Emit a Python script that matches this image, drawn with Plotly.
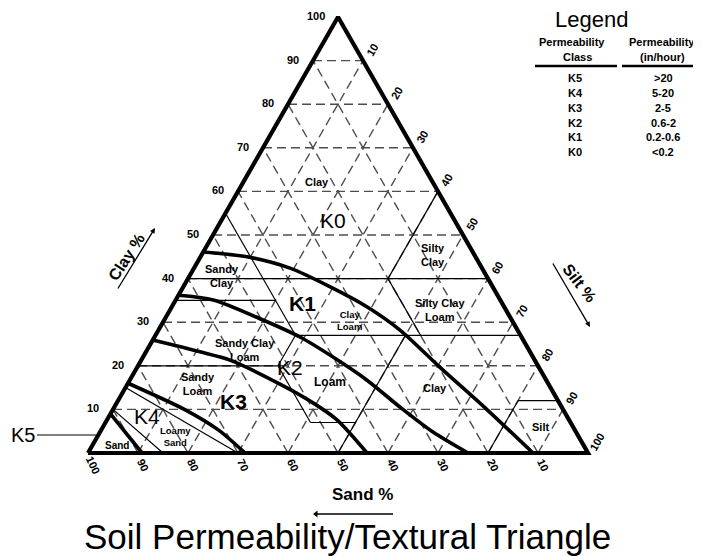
import plotly.graph_objects as go

W, H = 701, 556
OFF = 8  # page body margin of the html page
FONT = "Liberation Sans"

# ---------------- data ----------------
grid_levels = [10, 20, 30, 40, 50, 60, 70, 80, 90]
clay_ticks = [10, 20, 30, 40, 50, 60, 70, 80, 90, 100]
silt_ticks = [10, 20, 30, 40, 50, 60, 70, 80, 90, 100]
sand_ticks = [100, 90, 80, 70, 60, 50, 40, 30, 20, 10]

# USDA texture class boundaries, (sand, silt, clay) end points
texture_segments = [
    ((60, 0, 40), (0, 60, 40)),
    ((20, 40, 40), (0, 40, 60)),
    ((45, 28, 27), (45, 0, 55)),
    ((65, 0, 35), (45, 20, 35)),
    ((45, 28, 27), (0, 73, 27)),
    ((20, 53, 27), (20, 40, 40)),
    ((80, 0, 20), (52, 28, 20)),
    ((52, 28, 20), (45, 28, 27)),
    ((52, 41, 7), (52, 28, 20)),
    ((52, 41, 7), (43, 50, 7)),
    ((50, 50, 0), (23, 50, 27)),
    ((8, 80, 12), (0, 88, 12)),
    ((20, 80, 0), (8, 80, 12)),
    ((70, 30, 0), (85, 0, 15)),
    ((85, 15, 0), (90, 0, 10)),
]

# permeability class boundaries (sand, silt, clay)
k0_k1 = [(53.9, 0, 46.1), (45.7, 9.3, 45.0), (38.4, 19.2, 42.4), (32.5, 29.4, 38.1),
         (27.4, 39.1, 33.5), (23.5, 48.3, 28.2), (19.8, 60.5, 19.7), (15.2, 74.9, 9.9),
         (11.0, 89.0, 0)]
k1_k2 = [(63.8, 0, 36.2), (57.4, 7.5, 35.1), (49.75, 19.75, 30.5), (44.3, 29.1, 26.6),
         (40.0, 38.0, 22.0), (35.85, 47.45, 16.7), (32.35, 57.1, 10.55), (28.6, 66.6, 4.8),
         (24.0, 76.0, 0)]
k2_k3 = [(74.1, 0, 25.9), (66.0, 10.8, 23.2), (60.95, 17.75, 21.3), (53.7, 30.5, 15.8),
         (49.25, 39.25, 11.5), (46.4, 46.0, 7.6), (44.2, 55.8, 0)]
k3_k4 = [(84.0, 0, 16.0), (75.6, 14.5, 9.9), (71.3, 23.4, 5.3), (68.6, 31.4, 0)]
k4_k5 = [(91.0, 0, 9.0), (89.2, 10.8, 0)]

# texture class labels
texture_names = ["Clay", "Silty<br>Clay", "Sandy<br>Clay", "Silty Clay<br>Loam", "Clay<br>Loam",
                 "Sandy Clay<br>Loam", "Loam", "Sandy<br>Loam", "Clay", "Silt", "Loamy<br>Sand", "Sand"]
texture_pos = [(23.1, 14.7, 62.2), (8.3, 46.3, 45.4), (52.9, 6.5, 40.6), (13.2, 54.0, 32.8),
               (32.5, 37.2, 30.3), (56.8, 19.6, 23.6), (43.45, 40.25, 16.3), (70.1, 14.1, 15.8),
               (23.15, 61.95, 14.9), (6.6, 87.4, 6.0), (80.75, 15.55, 3.7), (93.3, 4.9, 1.8)]
texture_size = [11, 11, 11, 11, 9.5, 11, 12, 11, 11, 11, 9.5, 10]

# permeability class labels inside the triangle
k_names = ["K0", "K1", "K2", "K3", "K4"]
k_pos = [(24.3, 22.3, 53.4), (40.0, 25.6, 34.4), (49.75, 30.55, 19.7), (65.15, 23.15, 11.7),
         (84.05, 7.65, 8.3)]
k_bold = [False, True, False, True, False]

# legend table
perm_classes = ["K5", "K4", "K3", "K2", "K1", "K0"]
perm_rates = [">20", "5-20", "2-5", "0.6-2", "0.2-0.6", "<0.2"]


def tern(sand, silt, clay):
    return silt + clay / 2.0, clay


def px(xp, yp):
    return (xp - OFF) / W, 1 - (yp - OFF) / H


def page_to_data(xp, yp):
    return (xp - 88) / 5.0, (453 - yp) / 4.36


# axis ranges: triangle base-left at page pixel (88, 453), 5.0 px per unit in x, 4.36 px in y
X_RANGE = [(OFF - 88) / 5.0, (OFF + W - 88) / 5.0]
Y_RANGE = [(453 - OFF - H) / 4.36, (453 - OFF) / 4.36]

fig = go.Figure()

# dashed 10% grid
for g in grid_levels:
    for a, b in [((100 - g, 0, g), (0, 100 - g, g)),
                 ((100 - g, g, 0), (0, g, 100 - g)),
                 ((g, 100 - g, 0), (g, 0, 100 - g))]:
        xa, ya = tern(*a)
        xb, yb = tern(*b)
        fig.add_trace(go.Scatter(x=[xa, xb], y=[ya, yb], mode="lines",
                                 line=dict(color="#4d4d4d", width=1.4, dash="9px,5px"),
                                 hoverinfo="skip"))

# texture boundaries
for a, b in texture_segments:
    xa, ya = tern(*a)
    xb, yb = tern(*b)
    fig.add_trace(go.Scatter(x=[xa, xb], y=[ya, yb], mode="lines",
                             line=dict(color="black", width=1.2), hoverinfo="skip"))

# permeability curves
for curve in [k0_k1, k1_k2, k2_k3, k3_k4, k4_k5]:
    xs, ys = zip(*[tern(*p) for p in curve])
    fig.add_trace(go.Scatter(x=xs, y=ys, mode="lines",
                             line=dict(color="black", width=3.6, shape="spline", smoothing=0.8),
                             hoverinfo="skip"))

# triangle outline
corners = [(100, 0, 0), (0, 100, 0), (0, 0, 100), (100, 0, 0)]
cx, cy = zip(*[tern(*p) for p in corners])
fig.add_trace(go.Scatter(x=cx, y=cy, mode="lines", line=dict(color="black", width=4.2),
                         hoverinfo="skip"))

# "Sand %" direction arrow (points toward increasing sand, i.e. left)
sx0, sy0 = page_to_data(393, 514)
sx1, sy1 = page_to_data(316, 514)
fig.add_trace(go.Scatter(x=[sx0, sx1], y=[sy0, sy1], mode="lines",
                         line=dict(color="black", width=1.3), hoverinfo="skip"))
fig.add_trace(go.Scatter(x=[sx1], y=[sy1], mode="markers",
                         marker=dict(symbol="triangle-left", size=6, color="black"),
                         hoverinfo="skip"))

ann = []


def add_text(x, y, text, size, ref="paper", bold=False, angle=0, xshift=0, yshift=0):
    ann.append(dict(x=x, y=y, xref="x" if ref == "data" else "paper",
                    yref="y" if ref == "data" else "paper", text=text, showarrow=False,
                    xanchor="center", yanchor="middle", textangle=angle,
                    xshift=xshift, yshift=yshift,
                    font=dict(family=FONT, size=size, color="black",
                              weight="bold" if bold else "normal")))


# tick labels
for c in clay_ticks:
    x, y = tern(100 - c, 0, c)
    add_text(x, y, str(c), 11, ref="data", bold=True, xshift=-22 if c == 100 else -20, yshift=1)
for s in silt_ticks:
    x, y = tern(0, s, 100 - s)
    add_text(x, y, str(s), 11, ref="data", bold=True, angle=-60, xshift=9, yshift=11)
for s in sand_ticks:
    x, y = tern(s, 100 - s, 0)
    add_text(x, y, str(s), 11, ref="data", bold=True, angle=65, xshift=5, yshift=-12)

# region labels
for name, p, sz in zip(texture_names, texture_pos, texture_size):
    x, y = tern(*p)
    add_text(x, y, name, sz, ref="data", bold=True)
for name, p, b in zip(k_names, k_pos, k_bold):
    x, y = tern(*p)
    add_text(x, y, name, 21, ref="data", bold=b)

# K5 pointer label
add_text(*px(23, 435), "K5", 20)

# axis titles
add_text(*px(126, 257), "Clay %", 16, bold=True, angle=-57)
add_text(*px(580, 283), "Silt %", 16, bold=True, angle=52)
add_text(*px(362, 494), "Sand %", 17, bold=True)

# axis arrows: head, tail
for head, tail in [((155, 228), (117, 290)), ((590, 327), (552, 262))]:
    x, y = px(*head)
    ann.append(dict(x=x, y=y, xref="paper", yref="paper", text="", showarrow=True,
                    ax=tail[0] - head[0], ay=tail[1] - head[1], arrowhead=2, arrowsize=0.8,
                    arrowwidth=1.3, arrowcolor="black"))

# title
add_text(*px(347, 536), "Soil Permeability/Textural Triangle", 35)

# legend
add_text(*px(591, 20), "Legend", 22)
add_text(*px(572, 42), "Permeability", 11, bold=True)
add_text(*px(577, 57), "Class", 11, bold=True)
add_text(*px(662, 42), "Permeability", 11, bold=True)
add_text(*px(662, 57), "(in/hour)", 11, bold=True)
row_y = [78, 93, 108, 123, 137, 152]
for cls, rate, yp in zip(perm_classes, perm_rates, row_y):
    add_text(*px(575, yp), cls, 11, bold=True)
    add_text(*px(663, yp), rate, 11, bold=True)

shapes = []
for x0, x1 in [(535, 617), (622, 699)]:
    a0, b0 = px(x0, 66)
    a1, b1 = px(x1, 66)
    shapes.append(dict(type="line", xref="paper", yref="paper", x0=a0, y0=b0, x1=a1, y1=b1,
                       line=dict(color="black", width=2.5)))
# K5 pointer line
a0, b0 = px(37, 435)
a1, b1 = px(97, 435)
shapes.append(dict(type="line", xref="paper", yref="paper", x0=a0, y0=b0, x1=a1, y1=b1,
                   line=dict(color="black", width=1.2)))

fig.update_layout(
    width=W, height=H, margin=dict(l=0, r=0, t=0, b=0),
    paper_bgcolor="white", plot_bgcolor="white", showlegend=False,
    xaxis=dict(range=X_RANGE, visible=False, fixedrange=True),
    yaxis=dict(range=Y_RANGE, visible=False, fixedrange=True),
    annotations=ann, shapes=shapes,
)

fig.write_html("out.html", config={"displayModeBar": False})
